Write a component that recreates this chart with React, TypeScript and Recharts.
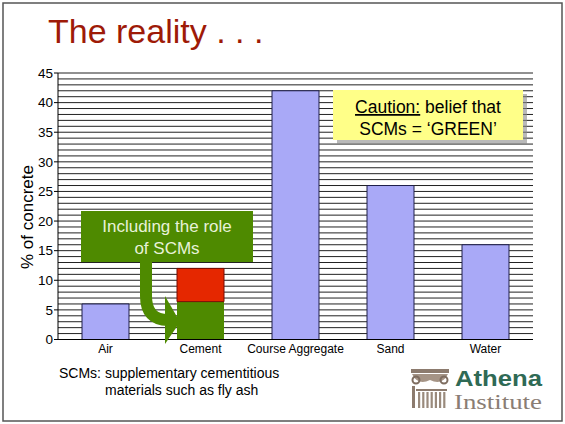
import React from "react";
import { BarChart, Bar, XAxis, YAxis, CartesianGrid } from "recharts";

const categories = ["Air", "Cement", "Course Aggregate", "Sand", "Water"];
const materialValues = [6, null, 42, 26, 16];
const scmValues = [null, 6.4, null, null, null];
const cementValues = [null, 5.6, null, null, null];
const yTicks = [0, 5, 10, 15, 20, 25, 30, 35, 40, 45];
const gridValues = Array.from({ length: 46 }, (_, i) => i);
const yDomain: [number, number] = [0, 45];

const data = categories.map((c, i) => ({
  name: c,
  material: materialValues[i],
  scm: scmValues[i],
  cement: cementValues[i],
}));

const FONT = "'Liberation Sans', Arial, Helvetica, sans-serif";

export default function App() {
  return (
    <div style={{ position: "relative", width: 565, height: 424, background: "#fff", fontFamily: FONT }}>
      <style>{`body{margin:0}`}</style>
      <BarChart
        width={565}
        height={424}
        data={data}
        margin={{ top: 73, right: 32, bottom: 54.5, left: 0 }}
        barSize={47}
      >
        <CartesianGrid
          vertical={false}
          stroke="#222"
          strokeWidth={1}
          horizontalCoordinatesGenerator={(props: any) => {
            const s = props?.yAxis?.scale;
            if (typeof s === "function") return gridValues.map((v) => s(v));
            if (s && typeof s.map === "function") return gridValues.map((v) => s.map(v));
            const off = props.offset;
            return gridValues.map(
              (v) => off.top + off.height * (1 - (v - yDomain[0]) / (yDomain[1] - yDomain[0]))
            );
          }}
        />
        <XAxis
          dataKey="name"
          height={30}
          axisLine={{ stroke: "#000" }}
          tickLine={false}
          tickSize={3}
          tickMargin={2}
          tick={{ fontSize: 12, fill: "#000", fontFamily: FONT }}
          interval={0}
        />
        <YAxis
          width={58}
          domain={yDomain}
          ticks={yTicks}
          interval={0}
          axisLine={{ stroke: "#000" }}
          tickLine={{ stroke: "#000" }}
          tickSize={4}
          tickMargin={1}
          tick={{ fontSize: 13.5, fill: "#000", fontFamily: FONT }}
        />
        <Bar dataKey="material" stackId="a" fill="#A9A9F7" stroke="#1E1E4A" strokeWidth={1} isAnimationActive={false} />
        <Bar dataKey="scm" stackId="a" fill="#4E8A00" isAnimationActive={false} />
        <Bar dataKey="cement" stackId="a" fill="#E52700" stroke="#7A0A00" strokeWidth={1} isAnimationActive={false} />
      </BarChart>
      <svg
        width={565}
        height={424}
        style={{ position: "absolute", left: 0, top: 0, pointerEvents: "none" }}
        fontFamily={FONT}
      >
        <rect x={3} y={3} width={559} height={418} fill="none" stroke="#555" strokeWidth={1.5} />
        <text x={48} y={43} fontSize={34} fill="#9E1A07">The reality . . .</text>
        <text transform="translate(33,217) rotate(-90)" textAnchor="middle" fontSize={17} fill="#000">% of concrete</text>

        {/* Callout arrow */}
        <path d="M146,260 L146,296 Q146,320 168,320" fill="none" stroke="#4E8A00" strokeWidth={12} />
        <polygon points="165,296 165,344 180,322" fill="#4E8A00" />
        {/* Green callout box */}
        <rect x={81} y={211} width={172} height={51} fill="#4E8A00" />
        <text x={167} y={232} textAnchor="middle" fontSize={17} fill="#E8F2D8">Including the role</text>
        <text x={167} y={254} textAnchor="middle" fontSize={17} fill="#E8F2D8">of SCMs</text>

        {/* Yellow caution box */}
        <rect x={337} y={94} width={190} height={50} fill="#8a8a8a" opacity={0.6} />
        <rect x={333} y={90} width={190} height={50} fill="#FFFF88" />
        <text x={428} y={113} textAnchor="middle" fontSize={17.5} fill="#000">
          <tspan textDecoration="underline">Caution:</tspan> belief that
        </text>
        <text x={428} y={135} textAnchor="middle" fontSize={17.5} fill="#000">SCMs = ‘GREEN’</text>

        {/* Footnote */}
        <text x={59} y={378} fontSize={14} fill="#000">SCMs: supplementary cementitious</text>
        <text x={105} y={395} fontSize={14} fill="#000">materials such as fly ash</text>

        {/* Logo */}
        <g>
          <rect x={411} y={369} width={38} height={4} fill="#8C7B6E" />
          <path d="M412,374 Q418,386 430,380 Q442,386 448,374 Z" fill="#A59486" />
          <circle cx={416} cy={380} r={3.5} fill="none" stroke="#7E6D60" strokeWidth={2} />
          <circle cx={444} cy={380} r={3.5} fill="none" stroke="#7E6D60" strokeWidth={2} />
          <rect x={412} y={386} width={3} height={22} fill="#8C7B6E" />
          {[0, 1, 2, 3, 4, 5, 6].map((i) => (
            <rect key={i} x={418 + i * 4.2} y={392} width={2.2} height={16} fill="#9A8A7C" />
          ))}
          <rect x={416} y={389} width={31} height={2} fill="#8C7B6E" />
        </g>
        <text x={455} y={386} fontSize={22} fontWeight="bold" fill="#2F6A55" textLength={87} lengthAdjust="spacingAndGlyphs">Athena</text>
        <text x={454} y={409} fontSize={20} fontFamily="'Liberation Serif', 'Times New Roman', serif" fill="#8A7D74" textLength={88} lengthAdjust="spacingAndGlyphs">Institute</text>
      </svg>
    </div>
  );
}
